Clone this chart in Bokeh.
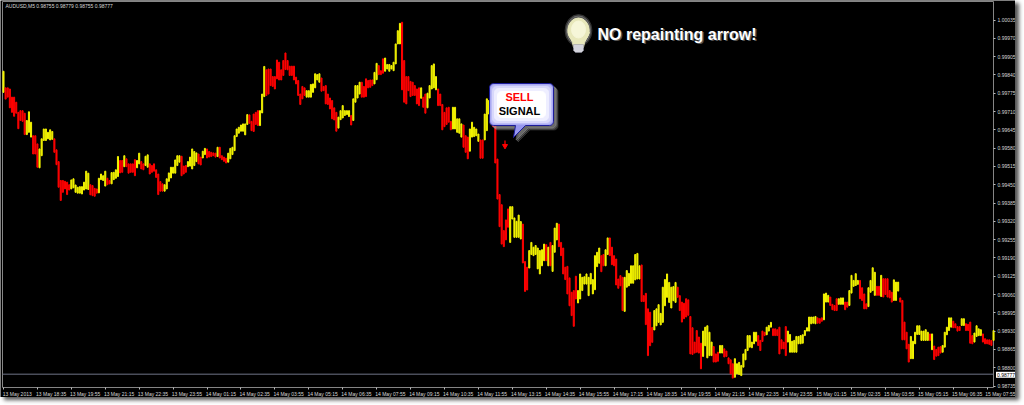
import math
from bokeh.embed import file_html
from bokeh.resources import INLINE
from bokeh.plotting import figure
from bokeh.models import ColumnDataSource, FixedTicker, Label, Range1d, NumeralTickFormatter

highs = [99853,99794,99794,99790,99761,99761,99743,99707,99713,99713,99704,99678,99709,99672,99624,99624,99595,99577,99613,99648,
99648,99636,99645,99639,99613,99574,99532,99465,99465,99462,99459,99450,99467,99471,99449,99441,99443,99443,99459,99498,
99491,99450,99447,99437,99435,99473,99488,99482,99498,99473,99465,99493,99494,99503,99550,99536,99536,99553,99542,99524,
99524,99524,99539,99536,99562,99532,99524,99551,99556,99524,99518,99524,99503,99488,99461,99453,99450,99471,99492,99512,
99512,99538,99553,99553,99551,99516,99518,99532,99548,99577,99568,99563,99559,99548,99569,99579,99577,99568,99565,99563,
99562,99583,99583,99553,99548,99544,99562,99579,99583,99624,99648,99654,99662,99666,99666,99699,99698,99675,99701,99707,
99713,99713,99772,99870,99858,99861,99861,99834,99834,99893,99885,99858,99891,99918,99891,99871,99871,99871,99832,99820,
99772,99799,99794,99784,99784,99806,99808,99844,99841,99844,99829,99799,99802,99772,99758,99749,99723,99707,99690,99713,
99731,99713,99713,99713,99696,99755,99802,99802,99814,99814,99799,99826,99820,99822,99822,99849,99881,99873,99855,99897,
99900,99877,99877,99873,99885,99950,99997,100023,100027,99891,99834,99834,99817,99814,99802,99790,99794,99794,99761,99772,
99775,99802,99873,99879,99834,99790,99772,99735,99707,99723,99725,99675,99725,99725,99684,99684,99666,99662,99624,99619,
99648,99672,99654,99648,99630,99609,99609,99701,99755,99749,99737,99725,99701,99541,99415,99379,99287,99325,99364,99372,
99372,99332,99320,99342,99319,99310,99177,99157,99216,99245,99228,99234,99225,99216,99219,99239,99237,99228,99245,99234,
99296,99313,99310,99245,99225,99157,99160,99119,99068,99074,99125,99074,99133,99121,99123,99133,99121,99135,99113,99198,
99210,99225,99198,99202,99219,99261,99261,99228,99198,99186,99115,99127,99121,99121,99145,99135,99162,99162,99202,99206,
99162,99165,99056,99064,99009,98997,98943,99003,99009,99024,98993,99086,99113,99133,99103,99086,99088,99103,99086,99056,
99033,99029,99045,99041,98982,98942,98891,98932,98909,98887,98930,98944,98949,98926,98891,98875,98849,98855,98879,98879,
98867,98859,98835,98828,98814,98832,98814,98819,98808,98849,98865,98914,98914,98891,98926,98926,98914,98897,98930,98926,
98944,98950,98961,98938,98938,98935,98944,98899,98891,98946,98930,98918,98894,98897,98911,98911,98914,98917,98932,98942,
98980,98980,98980,98982,98977,98974,98977,99062,99065,99057,99051,99025,99021,99045,99045,99048,99048,99033,99033,99074,
99128,99110,99134,99110,99110,99084,99062,99027,99084,99110,99155,99139,99089,99089,99128,99116,99116,99116,99074,99068,
99112,99104,99104,99048,99039,98962,98926,98883,98911,98894,98926,98949,98949,98930,98930,98935,98926,98920,98920,98877,
98865,98873,98875,98879,98926,98944,98977,98977,98965,98956,98946,98946,98974,98974,98956,98954,98962,98914,98923,98949,
98938,98935,98920,98903,98899,98899,98897,98932]

lows = [99778,99754,99761,99723,99707,99693,99704,99649,99678,99675,99628,99628,99636,99619,99559,99559,99512,99510,99553,99607,
99607,99613,99609,99611,99565,99521,99441,99394,99423,99435,99415,99431,99435,99439,99423,99420,99420,99417,99431,99435,
99433,99414,99411,99409,99420,99421,99468,99465,99445,99450,99453,99453,99468,99473,99479,99492,99494,99514,99514,99491,
99494,99494,99482,99510,99524,99506,99503,99518,99512,99488,99494,99498,99476,99415,99427,99427,99427,99435,99462,99474,
99491,99491,99518,99530,99482,99488,99494,99514,99516,99506,99518,99532,99524,99520,99545,99557,99545,99548,99550,99553,
99548,99550,99545,99539,99533,99527,99530,99542,99557,99571,99621,99633,99640,99640,99627,99664,99668,99642,99639,99664,
99660,99660,99705,99763,99767,99772,99802,99799,99790,99826,99822,99822,99838,99859,99858,99838,99838,99822,99808,99767,
99735,99755,99767,99761,99761,99761,99778,99794,99822,99814,99782,99784,99737,99735,99719,99684,99680,99640,99651,99681,
99687,99696,99699,99692,99662,99678,99743,99758,99772,99761,99761,99763,99794,99796,99802,99808,99823,99841,99841,99846,
99853,99861,99853,99861,99855,99879,99950,99950,99787,99743,99737,99784,99763,99767,99767,99737,99731,99757,99725,99704,
99723,99758,99790,99794,99787,99731,99731,99645,99656,99664,99672,99645,99648,99648,99636,99633,99619,99583,99565,99542,
99569,99619,99621,99624,99604,99544,99544,99609,99642,99701,99666,99656,99527,99399,99301,99239,99230,99254,99299,99245,
99328,99263,99263,99263,99257,99172,99071,99076,99154,99202,99198,99202,99151,99133,99162,99180,99180,99162,99162,99142,
99210,99254,99230,99198,99133,99113,99062,99020,98985,98947,99044,99030,99044,99074,99097,99097,99056,99097,99062,99077,
99159,99171,99141,99162,99162,99202,99198,99166,99162,99094,99082,99091,99003,99000,99086,99091,99100,99100,99112,99115,
99115,99035,99035,98953,98843,98878,98890,98934,98949,98961,98952,98961,99020,99050,99032,99012,99038,99032,99050,99003,
98962,98974,98980,98986,98849,98847,98852,98855,98852,98796,98840,98878,98835,98843,98843,98820,98820,98823,98852,98852,
98838,98840,98814,98778,98763,98766,98778,98776,98772,98802,98828,98861,98873,98871,98885,98894,98879,98861,98893,98914,
98917,98930,98944,98914,98914,98914,98849,98867,98867,98843,98891,98855,98855,98855,98855,98885,98885,98887,98914,98930,
98930,98956,98958,98956,98958,98958,98965,98970,99033,99033,99021,99006,99003,99003,99025,99025,99025,99006,99015,99021,
99065,99089,99092,99096,99045,99039,99009,99009,99017,99068,99074,99057,99057,99057,99053,99051,99060,99051,99048,99033,
99039,99039,99072,99033,98899,98899,98867,98820,98832,98832,98885,98918,98918,98897,98897,98897,98897,98897,98864,98829,
98841,98843,98852,98855,98873,98917,98932,98944,98942,98942,98930,98932,98950,98950,98932,98932,98887,98885,98891,98911,
98914,98914,98891,98885,98885,98883,98879,98897]

# bar colours, as runs of (colour, number of bars) from the left
color_runs = [("y",1),("r",10),("y",3),("r",3),("y",7),("r",8),("y",9),("r",4),("y",4),("r",2),("y",4),("r",2),("y",1),("r",5),
("y",2),("r",2),("y",2),("r",7),("y",8),("r",3),("y",5),("r",2),("y",2),("r",5),("y",1),("r",4),("y",10),("r",5),("y",3),("r",19),
("y",7),("r",8),("y",6),("r",1),("y",4),("r",6),("y",2),("r",3),("y",8),("r",9),("y",1),("r",2),("y",5),("r",7),("y",5),("r",3),
("y",5),("r",2),("y",4),("r",8),("y",6),("r",3),("y",8),("r",1),("y",1),("r",1),("y",3),("r",9),("y",11),("r",2),("y",2),("r",7),
("y",8),("r",6),("y",11),("r",12),("y",5),("r",3),("y",2),("r",5),("y",11),("r",4),("y",3),("r",7),("y",14),("r",3),("y",3),("r",4),
("y",3),("r",2),("y",5),("r",4),("y",4),("r",2),("y",1),("r",5),("y",3),("r",5),("y",9),("r",1),("y",1),("r",4),("y",5),("r",4),
("y",2),("r",4),("y",4),("r",5),("y",1)]

price_ticks = [1.00035,0.99970,0.99905,0.99840,0.99775,0.99710,0.99645,0.99580,0.99515,0.99450,0.99385,
               0.99320,0.99255,0.99190,0.99125,0.99060,0.98995,0.98930,0.98865,0.98800,0.98735]
time_labels = ["13 May 2013","13 May 18:35","13 May 19:55","13 May 21:15","13 May 22:35","13 May 23:55",
               "14 May 01:15","14 May 02:35","14 May 03:55","14 May 05:15","14 May 06:35","14 May 07:55",
               "14 May 09:15","14 May 10:35","14 May 11:55","14 May 13:15","14 May 14:35","14 May 15:55",
               "14 May 17:15","14 May 18:35","14 May 19:55","14 May 21:15","14 May 22:35","14 May 23:55",
               "15 May 01:15","15 May 02:35","15 May 03:55","15 May 05:15","15 May 06:35","15 May 07:55"]
current_price = 0.98777
header = "AUDUSD,M5  0.98755 0.98779 0.98755 0.98777"

seq = [c for c, k in color_runs for _ in range(k)]
n = min(len(highs), len(lows), len(seq))
x = list(range(1, n + 1))
color_of = {"r": "#ff0000", "y": "#f4f400"}
source = ColumnDataSource(dict(x=x, top=[v / 1e5 for v in highs[:n]], bottom=[v / 1e5 for v in lows[:n]],
                               color=[color_of[c] for c in seq[:n]]))

# the frame fills the whole black panel; the chart's own box is drawn inside it
W, H = 1015, 397
PX_X = 1 / 2.12
PX_Y = 0.00065 / 18.3
X0 = 1 - 3 * PX_X
Y1 = 1.00035 + 19.5 * PX_Y


def fx(px):
    return X0 + px * PX_X


def fy(py):
    return Y1 - py * PX_Y


BOX_L, BOX_R, BOX_T, BOX_B = 2, 993, 1, 387

p = figure(width=W, height=H, output_backend="svg", toolbar_location=None,
           x_range=Range1d(fx(0), fx(W)), y_range=Range1d(fy(H), fy(0)), y_axis_location="right",
           background_fill_color="#000000", border_fill_color="#000000",
           min_border=0, outline_line_color=None)
p.styles = {"box-shadow": "4px 3px 4px #555555"}
p.grid.visible = False

p.segment(x0=[fx(BOX_L), fx(BOX_L), fx(BOX_R), fx(BOX_L)], y0=[fy(BOX_T), fy(BOX_T), fy(BOX_T), fy(BOX_B)],
          x1=[fx(BOX_L), fx(BOX_R), fx(BOX_R), fx(BOX_R)], y1=[fy(BOX_B), fy(BOX_T), fy(BOX_B), fy(BOX_B)],
          color="#858585", line_width=1)
p.segment(fx(BOX_L), current_price, fx(BOX_R), current_price, color="#6f7488", line_width=1)
p.vbar(x="x", width=0.5, top="top", bottom="bottom", color="color", source=source)

xaxis = p.xaxis[0]
yaxis = p.yaxis[0]
xaxis.fixed_location = fy(BOX_B)
yaxis.fixed_location = fx(BOX_R)
tick_x = [1 + 16 * k for k in range(len(time_labels))]
label_x = [t + 6.5 for t in tick_x]
xaxis.ticker = FixedTicker(ticks=label_x, minor_ticks=tick_x)
xaxis.major_label_overrides = {lx: s for lx, s in zip(label_x, time_labels)}
xaxis.major_tick_out = 0
xaxis.major_tick_in = 0
xaxis.minor_tick_out = 2
xaxis.minor_tick_in = 0
xaxis.minor_tick_line_color = "#bbbbbb"
xaxis.major_label_standoff = 1
yaxis.ticker = FixedTicker(ticks=price_ticks)
yaxis.formatter = NumeralTickFormatter(format="0.00000")
yaxis.major_tick_out = 2
yaxis.major_tick_in = 0
yaxis.minor_tick_out = 0
yaxis.minor_tick_in = 0
yaxis.major_tick_line_color = "#bbbbbb"
yaxis.major_label_standoff = 2
for ax in (xaxis, yaxis):
    ax.axis_line_color = None
    ax.major_label_text_color = "#d8d8d8"
    ax.major_label_text_font = "Liberation Sans"
    ax.major_label_text_font_size = "5px"


def add_label(px, py, text, **kw):
    p.add_layout(Label(x=fx(px), y=fy(py), text=text, **kw))


add_label(5, 5, header, text_color="#d8d8d8", text_font="Liberation Sans", text_font_size="5px",
          text_baseline="middle")
add_label(995.5, 374.3, f"{current_price:.5f}", text_color="#000000", text_font="Liberation Sans",
          text_font_size="5px", text_baseline="middle", background_fill_color="#ffffff", padding=1)

# headline with its soft shadow
add_label(598.5, 35, "NO repainting arrow!", text_color="#555555", text_font="Liberation Sans",
          text_font_style="bold", text_font_size="16px", text_baseline="middle")
add_label(597, 33.5, "NO repainting arrow!", text_color="#ffffff", text_font="Liberation Sans",
          text_font_style="bold", text_font_size="16px", text_baseline="middle")


def pts(pxs, pys):
    return [fx(v) for v in pxs], [fy(v) for v in pys]


def rounded(x0, y0, x1, y1, r, tail=None):
    xs, ys = [], []
    for cx, cy, a0 in ((x1 - r, y0 + r, -90), (x1 - r, y1 - r, 0), (x0 + r, y1 - r, 90), (x0 + r, y0 + r, 180)):
        for k in range(7):
            a = math.radians(a0 + 15 * k)
            xs.append(cx + r * math.cos(a))
            ys.append(cy + r * math.sin(a))
        if tail and a0 == 0:
            xs += [tail[0], tail[2], tail[4]]
            ys += [tail[1], tail[3], tail[5]]
    return xs, ys


# bulb
for grow, col, al in ((2.5, "#666666", 0.35), (1.2, "#888888", 0.5)):
    p.ellipse(fx(578), fy(30), width=(22 + 2 * grow) * PX_X, height=(27 + 2 * grow) * PX_Y, color=col, alpha=al)
bx, by = pts([567.5, 589, 584, 583, 573, 572], [32, 32, 42, 47, 47, 42])
p.patch(bx, by, color="#e8e8bb")
p.ellipse(fx(578), fy(30), width=21.5 * PX_X, height=25 * PX_Y, color="#e8e8bb")
p.ellipse(fx(578), fy(29), width=14 * PX_X, height=17 * PX_Y, color="#f6f6d8")
bx, by = pts([573, 583, 583, 581, 575, 573], [44, 44, 50, 52, 52, 50])
p.patch(bx, by, color="#d4d4dc", line_color="#8f8f9c", line_width=0.5)

# speech bubble
tail = (525, 125, 513, 137, 515, 125)
for off, al in ((4.5, 0.18), (3.5, 0.25), (2.5, 0.35)):
    xs, ys = rounded(489 + off, 83 + off, 553 + off, 125 + off, 4,
                     (tail[0] + off, 125 + off, 513 + off, 137 + off, 515 + off, 125 + off))
    sx, sy = pts(xs, ys)
    p.patch(sx, sy, color="#b0b0b0", alpha=al)
xs, ys = rounded(489, 83, 553, 125, 4, tail)
sx, sy = pts(xs, ys)
p.patch(sx, sy, fill_color="#9898ee", line_color="#1c1c9a", line_width=1)
for inset, col in ((1.5, "#bcbcf6"), (3, "#d8d8fb"), (5, "#eeeeff"), (8, "#ffffff")):
    xs, ys = rounded(489 + inset, 83 + inset, 553 - inset, 125 - inset, 4)
    sx, sy = pts(xs, ys)
    p.patch(sx, sy, color=col)
add_label(519, 96, "SELL", text_color="#ff0000", text_font="Liberation Sans", text_font_style="bold",
          text_font_size="11px", text_align="center", text_baseline="middle")
add_label(519, 110.7, "SIGNAL", text_color="#000000", text_font="Liberation Sans", text_font_style="bold",
          text_font_size="11px", text_align="center", text_baseline="middle")

# sell arrow
p.segment(fx(504.5), fy(140), fx(504.5), fy(145), color="#ff0000", line_width=1.3)
p.scatter(fx(504.5), fy(145.5), marker="inverted_triangle", size=5, color="#ff0000")

open("out.html", "w").write(file_html(p, INLINE))
